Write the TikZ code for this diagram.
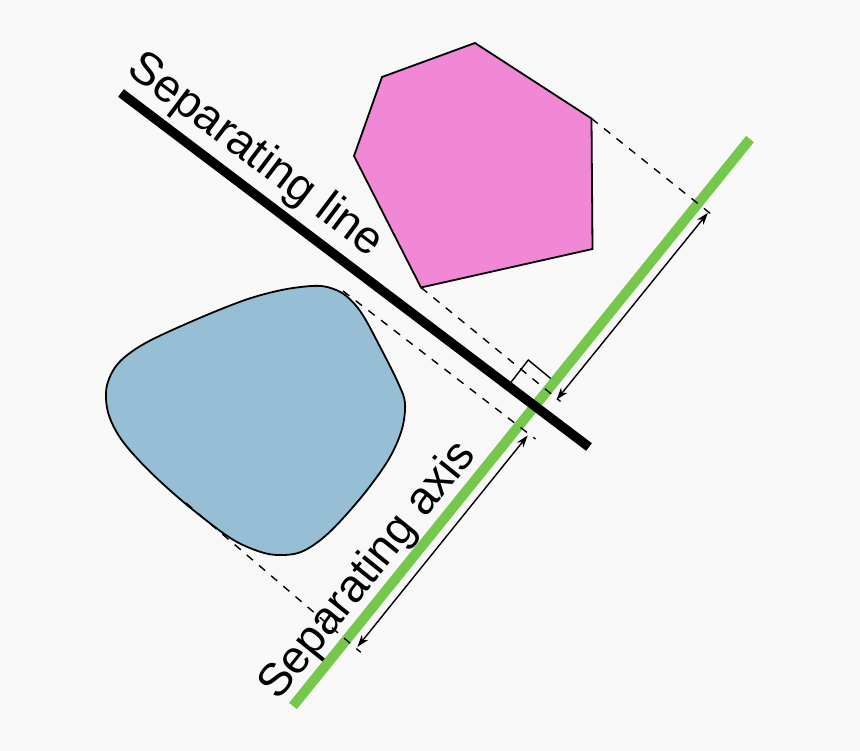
\documentclass[tikz,border=0pt]{standalone}
\usepackage{fontspec}
\setmainfont{Liberation Sans}
\usetikzlibrary{arrows.meta,calc}
\definecolor{bg}{HTML}{F8F8F8}
\definecolor{pinkfill}{RGB}{240,136,214}
\definecolor{bluefill}{RGB}{150,191,214}
\definecolor{axisgreen}{RGB}{118,200,76}
\begin{document}
\begin{tikzpicture}[x=1pt,y=-1pt,
  shapeline/.style={draw=black,line width=1.8pt,line join=miter},
  projline/.style={draw=black,line width=1.4pt,dash pattern=on 8pt off 8pt},
  measure/.style={draw=black,line width=1.4pt,{Stealth[length=12pt,width=8pt,inset=3.5pt]}-{Stealth[length=12pt,width=8pt,inset=3.5pt]}},
  txtlabel/.style={font=\fontsize{46}{55}\selectfont,inner sep=0pt,anchor=base}]
\fill[bg] (0,0) rectangle (860,751);
\useasboundingbox (0,0) rectangle (860,751);

% key coordinates
\coordinate (gA) at (293,706);
\coordinate (gB) at (750,139);
\coordinate (bA) at (121,93);
\coordinate (bB) at (589,447);
\coordinate (h1) at (475,43);
\coordinate (h2) at (591.5,118.5);
\coordinate (h3) at (592.5,249);
\coordinate (h4) at (421,287.5);
\coordinate (h5) at (354,156);
\coordinate (h6) at (382,77);
\coordinate (c3s) at (343,291);
\coordinate (c4s) at (186,503);
\coordinate (d1e) at (716,218);
\coordinate (d2e) at (560.5,401.5);
\coordinate (d3e) at (535.5,439);
\coordinate (d4e) at (360.7,652.3);
\coordinate (a1s) at (556.6,399.7);
\coordinate (a1e) at (707.9,212.8);
\coordinate (a2s) at (357.4,646.9);
\coordinate (a2e) at (527.7,435.5);
\coordinate (r1) at (510,383.5);
\coordinate (r2) at (528.3,360);
\coordinate (r3) at (550.7,378.5);

% blue convex blob
\draw[shapeline,fill=bluefill] plot[smooth cycle,tension=0.55] coordinates {
 (311.7,286) (281.7,290) (245,300) (195,320) (145,343.3) (118.3,363.3)
 (106.7,386.7) (108.3,413.3) (121.7,440) (148.3,470) (185,503.3)
 (228.3,536.7) (255,550) (276.7,555) (301.7,551.7) (328.3,533.3)
 (361.7,496.7) (388.3,460) (401.7,430) (405,403.3) (398.3,383.3)
 (381.7,350) (361.7,313.3) (345,295) (328.3,287.3)};

% pink hexagon
\draw[shapeline,fill=pinkfill] (h1) -- (h2) -- (h3) -- (h4) -- (h5) -- (h6) -- cycle;

% separating axis and separating line
\draw[axisgreen,line width=10pt] (gA) -- (gB);
\draw[black,line width=9.5pt] (bA) -- (bB);

% projections
\draw[projline] (h2) -- (d1e);
\draw[projline] (h4) -- (d2e);
\draw[projline] (c3s) -- (d3e);
\draw[projline] (c4s) -- (d4e);

% right angle marker
\draw[line width=1.4pt] (r1) -- (r2) -- (r3);

% projection intervals
\draw[measure] (a1s) -- (a1e);
\draw[measure] (a2s) -- (a2e);

% labels
\node[txtlabel,rotate=-37.1] (linelabel) at (247.9,165.1) {Separating line};
\node[txtlabel,rotate=51.13] (axislabel) at (377.8,578.5) {Separating axis};
\end{tikzpicture}
\end{document}
